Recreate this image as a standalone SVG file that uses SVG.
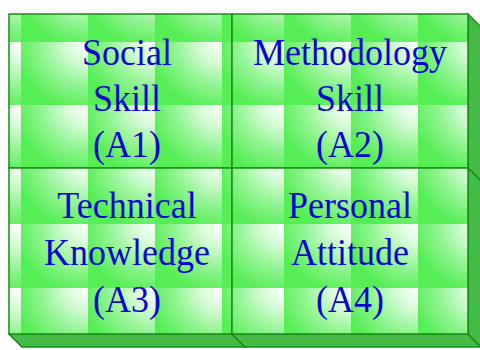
<svg xmlns="http://www.w3.org/2000/svg" width="480" height="350" viewBox="0 0 480 350">
  <style>
    .front { stroke: #1a8a1a; stroke-width: 1.5; }
    .side { fill: #44bb44; stroke: #1a8a1a; stroke-width: 1.5; stroke-linejoin: miter; }
    .lbl { font-family: "Liberation Serif", "Times New Roman", serif; font-size: 36px; fill: #0808cc; text-anchor: middle; }
  </style>
  <defs>
    <radialGradient id="tileGrad" gradientUnits="objectBoundingBox" cx="1" cy="0" r="1.1">
      <stop offset="0" stop-color="#ffffff"/>
      <stop offset="0.3" stop-color="#d6fbd6"/>
      <stop offset="0.65" stop-color="#90f490"/>
      <stop offset="1" stop-color="#55ee55"/>
    </radialGradient>
    <pattern id="p1" patternUnits="userSpaceOnUse" x="21" y="42" width="67" height="63">
      <rect width="67" height="63" fill="url(#tileGrad)"/>
    </pattern>
    <pattern id="p2" patternUnits="userSpaceOnUse" x="284" y="42" width="67" height="63">
      <rect width="67" height="63" fill="url(#tileGrad)"/>
    </pattern>
    <pattern id="p3" patternUnits="userSpaceOnUse" x="21" y="224" width="67" height="64">
      <rect width="67" height="64" fill="url(#tileGrad)"/>
    </pattern>
    <pattern id="p4" patternUnits="userSpaceOnUse" x="284" y="224" width="67" height="64">
      <rect width="67" height="64" fill="url(#tileGrad)"/>
    </pattern>
  </defs>

  <g id="a1">
    <rect class="front" x="9" y="14" width="223" height="154" fill="url(#p1)"/>
    <text class="lbl" transform="translate(127,65) scale(1,1.08)">Social</text>
    <text class="lbl" transform="translate(127,111) scale(1,1.08)">Skill</text>
    <text class="lbl" transform="translate(127,157) scale(1,1.08)">(A1)</text>
  </g>

  <g id="a2">
    <polygon class="side" points="468,14 481,27 481,181 468,168"/>
    <rect class="front" x="232" y="14" width="236" height="154" fill="url(#p2)"/>
    <text class="lbl" transform="translate(350,65) scale(1,1.08)">Methodology</text>
    <text class="lbl" transform="translate(350,111) scale(1,1.08)">Skill</text>
    <text class="lbl" transform="translate(350,157) scale(1,1.08)">(A2)</text>
  </g>

  <g id="a3">
    <polygon class="side" points="9,334 232,334 245,347 22,347"/>
    <rect class="front" x="9" y="168" width="223" height="166" fill="url(#p3)"/>
    <text class="lbl" transform="translate(127,218) scale(1,1.08)">Technical</text>
    <text class="lbl" transform="translate(127,265) scale(1,1.08)">Knowledge</text>
    <text class="lbl" transform="translate(127,312) scale(1,1.08)">(A3)</text>
  </g>

  <g id="a4">
    <polygon class="side" points="232,334 468,334 481,347 245,347"/>
    <polygon class="side" points="468,168 481,181 481,347 468,334"/>
    <rect class="front" x="232" y="168" width="236" height="166" fill="url(#p4)"/>
    <text class="lbl" transform="translate(350,218) scale(1,1.08)">Personal</text>
    <text class="lbl" transform="translate(350,265) scale(1,1.08)">Attitude</text>
    <text class="lbl" transform="translate(350,312) scale(1,1.08)">(A4)</text>
  </g>
</svg>
